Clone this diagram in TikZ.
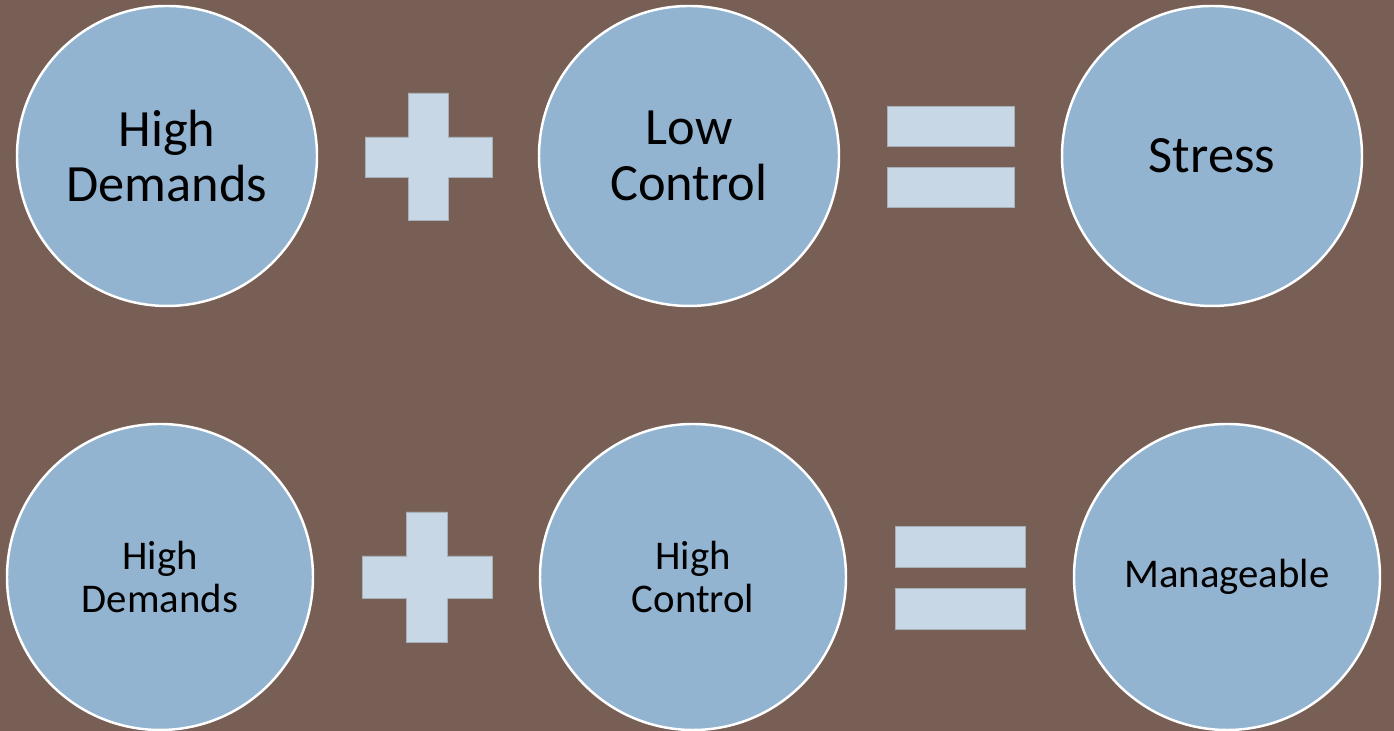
\documentclass[tikz,border=0pt]{standalone}
\usepackage{fontspec}
\setmainfont{Carlito}
\usepackage{xcolor}
\usetikzlibrary{positioning}

\definecolor{slidebg}{HTML}{785F55}
\definecolor{bubblefill}{HTML}{93B4D1}
\definecolor{signfill}{HTML}{C7D7E6}
\definecolor{signedge}{HTML}{A8B0B8}

\tikzset{
    bubble/.style={circle, fill=bubblefill, draw=white, line width=0.7pt,
        inner sep=0pt, align=center, text=black},
    bigbubble/.style={bubble, minimum size=3.0cm,
        font=\fontsize{14.9pt}{15.9pt}\selectfont},
    smallbubble/.style={bubble, minimum size=3.06cm,
        font=\fontsize{11.6pt}{12.5pt}\selectfont},
    signpart/.style={fill=signfill, draw=signedge, line width=0.25pt}
}

\begin{document}
\begin{tikzpicture}

    % background
    \fill[slidebg] (0,0) rectangle (13.94,7.31);
    \useasboundingbox (0,0) rectangle (13.94,7.31);

    % First row - high demands and low control
    \node[bigbubble] (demandsA) at (1.67,5.75) {High\\Demands};
    \draw[signpart] (4.08,6.38) -- (4.48,6.38) -- (4.48,5.94) -- (4.92,5.94)
        -- (4.92,5.54) -- (4.48,5.54) -- (4.48,5.11) -- (4.08,5.11)
        -- (4.08,5.54) -- (3.65,5.54) -- (3.65,5.94) -- (4.08,5.94) -- cycle;
    \node[bigbubble] (controlA) at (6.89,5.75) {Low\\Control};
    \draw[signpart] (8.87,6.25) rectangle (10.14,5.85);
    \draw[signpart] (8.87,5.64) rectangle (10.14,5.24);
    \node[bigbubble] (stress) at (12.12,5.75) {Stress};

    % Second row - high demands and high control
    \node[smallbubble] (demandsB) at (1.60,1.54) {High\\Demands};
    \draw[signpart] (4.06,2.19) -- (4.47,2.19) -- (4.47,1.75) -- (4.92,1.75)
        -- (4.92,1.33) -- (4.47,1.33) -- (4.47,0.89) -- (4.06,0.89)
        -- (4.06,1.33) -- (3.62,1.33) -- (3.62,1.75) -- (4.06,1.75) -- cycle;
    \node[smallbubble] (controlB) at (6.93,1.54) {High\\Control};
    \draw[signpart] (8.95,2.05) rectangle (10.25,1.64);
    \draw[signpart] (8.95,1.43) rectangle (10.25,1.02);
    \node[smallbubble] (manageable) at (12.27,1.54) {Manageable};
\end{tikzpicture}
\end{document}
